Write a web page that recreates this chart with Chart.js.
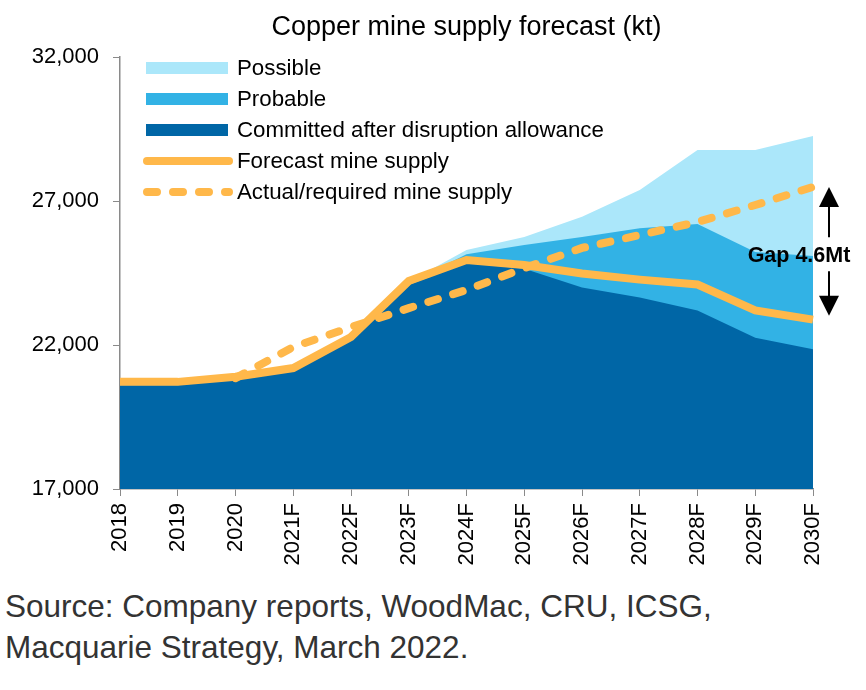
<!DOCTYPE html>
<html>
<head>
<meta charset="utf-8">
<script src="https://cdn.jsdelivr.net/npm/chart.js@4.4.1/dist/chart.umd.min.js"></script>
<style>
  html, body { margin: 0; padding: 0; background: #fff; }
  #wrap { position: relative; width: 866px; height: 580px; }
  #source {
    font-family: 'Liberation Sans', Arial, sans-serif;
    font-size: 31.5px;
    line-height: 41px;
    color: #333;
    margin: 6px 0 0 5px;
  }
</style>
</head>
<body>
<div id="wrap"><canvas id="chart" width="866" height="580"></canvas></div>
<div id="source">Source: Company reports, WoodMac, CRU, ICSG,<br>Macquarie Strategy, March 2022.</div>
<script>
// data (kt)
const years = ['2018', '2019', '2020', '2021F', '2022F', '2023F', '2024F',
  '2025F', '2026F', '2027F', '2028F', '2029F', '2030F'];
const committed = [20600, 20600, 20800, 21100, 22150, 24080, 24850, 24650, 24000, 23650, 23200, 22250, 21850];
const probableTop = [20600, 20600, 20800, 21100, 22150, 24150, 25150, 25470, 25750, 26050, 26200, 25230, 25090];
const possibleTop = [20600, 20600, 20800, 21100, 22150, 24200, 25300, 25750, 26450, 27380, 28770, 28770, 29260];
const forecast = [20720, 20720, 20900, 21200, 22280, 24220, 24950, 24780, 24480, 24270, 24100, 23200, 22880];
const required = [null, null, 20850, 21930, 22620, 23280, 23910, 24670, 25370, 25820, 26270, 26860, 27490];
const yTicks = [17000, 22000, 27000, 32000];
const gapLabel = 'Gap 4.6Mt';

const FONT = "'Liberation Sans', Arial, sans-serif";
const orange = '#FFB84A';
const light = '#ABE7FA';
const mid = '#32B2E5';
const dark = '#0066A6';
const axisGrey = '#8a8a8a';

// legend drawn inside the plot, top-left
const boxLegend = {
  id: 'boxLegend',
  afterDatasetsDraw(chart) {
    const ctx = chart.ctx;
    const x0 = chart.chartArea.left + 25;
    const x1 = x0 + 84;
    const tx = x0 + 92;
    let y = chart.chartArea.top + 11;
    ctx.save();
    ctx.font = '22.3px ' + FONT;
    ctx.textBaseline = 'middle';
    [4, 3, 2, 1, 0].forEach((i) => {
      const ds = chart.data.datasets[i];
      if (ds.fill) {
        ctx.fillStyle = ds.backgroundColor;
        ctx.fillRect(x0 + 1, y - 6, x1 - x0 - 2, 12);
      } else {
        ctx.strokeStyle = ds.borderColor;
        ctx.lineWidth = ds.borderWidth;
        ctx.lineCap = 'round';
        ctx.setLineDash(ds.borderDash || []);
        ctx.beginPath();
        ctx.moveTo(x0 + 2, y);
        ctx.lineTo(x1, y);
        ctx.stroke();
        ctx.setLineDash([]);
      }
      ctx.fillStyle = '#000';
      ctx.fillText(ds.label, tx, y + 1);
      y += 31;
    });
    ctx.restore();
  },
};

// double arrow + label between required and forecast at the last year
const gapArrow = {
  id: 'gapArrow',
  afterDatasetsDraw(chart) {
    const { ctx, scales } = chart;
    const last = years.length - 1;
    const ax = scales.x.getPixelForValue(last) + 16;
    const top = scales.y.getPixelForValue(required[last]);
    const bot = scales.y.getPixelForValue(forecast[last]) - 4;
    const c = (top + bot) / 2 + 5;
    ctx.save();
    ctx.fillStyle = '#000';
    ctx.strokeStyle = '#000';
    ctx.lineWidth = 2;
    ctx.beginPath();
    ctx.moveTo(ax, top + 18);
    ctx.lineTo(ax, c - 19);
    ctx.moveTo(ax, c + 15);
    ctx.lineTo(ax, bot - 18);
    ctx.stroke();
    ctx.beginPath();
    ctx.moveTo(ax, top);
    ctx.lineTo(ax - 10, top + 20);
    ctx.lineTo(ax + 10, top + 20);
    ctx.closePath();
    ctx.fill();
    ctx.beginPath();
    ctx.moveTo(ax, bot);
    ctx.lineTo(ax - 10, bot - 20);
    ctx.lineTo(ax + 10, bot - 20);
    ctx.closePath();
    ctx.fill();
    ctx.font = 'bold 21.5px ' + FONT;
    ctx.textAlign = 'center';
    ctx.textBaseline = 'middle';
    ctx.fillText(gapLabel, ax - 30, c);
    ctx.restore();
  },
};

const area = (label, data, color) => ({
  label: label,
  data: data,
  backgroundColor: color,
  borderColor: 'transparent',
  borderWidth: 0,
  fill: 'start',
  pointRadius: 0,
  tension: 0,
});

new Chart(document.getElementById('chart'), {
  type: 'line',
  data: {
    labels: years,
    datasets: [
      {
        label: 'Actual/required mine supply',
        data: required,
        borderColor: orange,
        borderWidth: 8,
        borderDash: [10, 16],
        borderCapStyle: 'round',
        fill: false,
        pointRadius: 0,
      },
      {
        label: 'Forecast mine supply',
        data: forecast,
        borderColor: orange,
        borderWidth: 8,
        fill: false,
        pointRadius: 0,
      },
      area('Committed after disruption allowance', committed, dark),
      area('Probable', probableTop, mid),
      area('Possible', possibleTop, light),
    ],
  },
  options: {
    responsive: false,
    animation: false,
    devicePixelRatio: 1,
    layout: { padding: { left: 0, right: 53, top: 0, bottom: 0 } },
    plugins: {
      legend: { display: false },
      tooltip: { enabled: false },
      title: {
        display: true,
        fullSize: false,
        text: 'Copper mine supply forecast (kt)',
        color: '#000',
        font: { family: FONT, size: 27, weight: 'normal', lineHeight: 1.2 },
        padding: { top: 11, bottom: 13.6 },
      },
    },
    scales: {
      x: {
        offset: false,
        grid: { offset: false, drawOnChartArea: false, color: axisGrey, tickLength: 7 },
        border: { color: axisGrey, width: 1.5 },
        ticks: {
          autoSkip: false,
          minRotation: 90,
          maxRotation: 90,
          color: '#000',
          padding: 7,
          font: { family: FONT, size: 22 },
        },
        afterFit: (s) => { s.height = 91; },
      },
      y: {
        min: 17000,
        max: 32000,
        afterBuildTicks: (s) => { s.ticks = yTicks.map((v) => ({ value: v })); },
        grid: { drawOnChartArea: false, color: axisGrey, tickLength: 7 },
        border: { color: axisGrey, width: 1.5 },
        ticks: {
          color: '#000',
          padding: 14,
          font: { family: FONT, size: 22 },
          callback: (v) => v.toLocaleString('en-US'),
        },
        afterFit: (s) => { s.width = 120; },
      },
    },
  },
  plugins: [boxLegend, gapArrow],
});
</script>
</body>
</html>
